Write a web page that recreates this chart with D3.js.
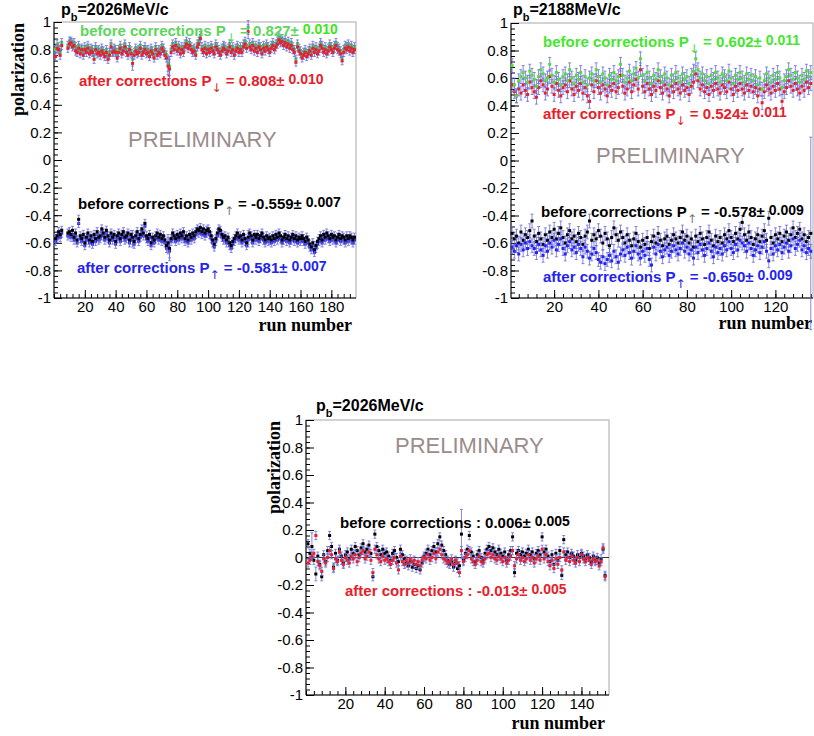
<!DOCTYPE html>
<html>
<head>
<meta charset="utf-8">
<script src="https://cdn.jsdelivr.net/npm/d3@7"></script>
<style>
  html, body { margin: 0; padding: 0; background: #fff; }
  svg { display: block; }
</style>
</head>
<body>
<div id="chart"></div>
<script>
// polarization per run (null = no run)
const P1_BEFORE_DOWN = [
  0.80, 0.84, 0.82, 0.78, 0.85, null, null, null, 0.83, 0.86,
  0.86, 0.84, 0.85, 0.82, 0.80, 0.83, 0.79, 0.81, 0.78, 0.82,
  0.80, 0.83, 0.79, 0.81, 0.80, 0.76, 0.82, 0.79, 0.80, 0.78,
  0.81, 0.79, 0.77, 0.80, 0.75, 0.78, 0.84, 0.79, 0.81, 0.80,
  0.76, 0.80, 0.83, 0.79, 0.81, 0.84, 0.80, 0.78, 0.82, 0.79,
  0.73, 0.78, 0.81, 0.79, 0.80, 0.83, 0.78, 0.80, 0.82, 0.79,
  0.80, 0.77, 0.81, 0.79, 0.76, 0.82, 0.78, 0.80, 0.79, 0.83,
  0.81, 0.78, 0.76, 0.70, 0.68, 0.80, 0.84, 0.82, 0.85, 0.81,
  0.83, 0.79, 0.82, 0.80, 0.84, 0.86, 0.83, 0.85, 0.82, 0.80,
  0.81, 0.78, 0.84, 0.86, 0.90, 0.82, 0.80, 0.83, 0.79, 0.82,
  0.80, 0.83, 0.81, 0.79, 0.84, 0.82, 0.80, 0.78, 0.81, 0.83,
  0.82, 0.79, 0.81, 0.84, 0.80, 0.82, 0.78, 0.81, 0.83, 0.80,
  0.82, 0.80, 0.84, 0.86, 0.83, 0.96, 0.84, 0.82, 0.85, 0.81,
  0.83, 0.80, 0.84, 0.82, 0.79, 0.83, 0.81, 0.84, 0.82, 0.80,
  0.83, 0.85, 0.82, 0.84, 0.86, 0.89, 0.87, 0.88, 0.85, 0.87,
  0.84, 0.86, 0.83, 0.85, 0.82, 0.80, 0.73, 0.84, 0.81, 0.79,
  0.76, 0.78, 0.80, 0.77, 0.79, 0.81, 0.78, 0.83, 0.80, 0.82,
  0.79, 0.81, 0.85, 0.83, 0.80, 0.82, 0.79, 0.81, 0.84, 0.82,
  0.80, 0.83, 0.85, 0.82, 0.81, 0.79, 0.74, 0.80, 0.83, 0.82,
  0.84, 0.81, 0.83, 0.80, 0.82
];
const P1_AFTER_DOWN = [
  0.75, 0.81, 0.80, 0.76, 0.83, null, null, null, 0.81, 0.84,
  0.85, 0.82, 0.83, 0.79, 0.78, 0.81, 0.77, 0.80, 0.76, 0.80,
  0.78, 0.81, 0.77, 0.79, 0.78, 0.73, 0.80, 0.77, 0.78, 0.76,
  0.79, 0.77, 0.75, 0.78, 0.73, 0.76, 0.82, 0.78, 0.79, 0.78,
  0.74, 0.78, 0.81, 0.77, 0.79, 0.82, 0.78, 0.76, 0.80, 0.77,
  0.70, 0.76, 0.79, 0.77, 0.78, 0.81, 0.76, 0.78, 0.80, 0.77,
  0.78, 0.75, 0.79, 0.77, 0.74, 0.80, 0.76, 0.78, 0.77, 0.81,
  0.79, 0.76, 0.74, 0.68, 0.66, 0.78, 0.82, 0.80, 0.83, 0.79,
  0.81, 0.77, 0.80, 0.78, 0.82, 0.84, 0.81, 0.83, 0.80, 0.78,
  0.79, 0.76, 0.82, 0.84, 0.88, 0.80, 0.78, 0.81, 0.77, 0.80,
  0.78, 0.81, 0.79, 0.77, 0.82, 0.80, 0.78, 0.76, 0.79, 0.81,
  0.80, 0.77, 0.79, 0.82, 0.78, 0.80, 0.76, 0.79, 0.81, 0.78,
  0.80, 0.78, 0.82, 0.84, 0.81, 0.93, 0.82, 0.80, 0.83, 0.79,
  0.81, 0.78, 0.82, 0.80, 0.77, 0.81, 0.79, 0.82, 0.80, 0.78,
  0.81, 0.83, 0.80, 0.82, 0.84, 0.87, 0.85, 0.86, 0.83, 0.85,
  0.82, 0.84, 0.81, 0.83, 0.80, 0.78, 0.71, 0.82, 0.79, 0.77,
  0.74, 0.76, 0.78, 0.75, 0.77, 0.79, 0.76, 0.81, 0.78, 0.80,
  0.77, 0.79, 0.83, 0.81, 0.78, 0.80, 0.77, 0.79, 0.82, 0.80,
  0.78, 0.81, 0.83, 0.80, 0.79, 0.77, 0.72, 0.78, 0.81, 0.80,
  0.82, 0.79, 0.81, 0.78, 0.80
];
const P1_BEFORE_UP = [
  -0.57, -0.55, -0.52, -0.54, -0.51, null, null, null, -0.53, -0.52,
  -0.54, -0.51, -0.56, -0.53, -0.58, -0.43, -0.55, -0.57, -0.54, -0.60,
  -0.56, -0.53, -0.58, -0.55, -0.59, -0.54, -0.57, -0.52, -0.56, -0.55,
  -0.50, -0.53, -0.56, -0.51, -0.55, -0.58, -0.53, -0.56, -0.54, -0.59,
  -0.55, -0.53, -0.57, -0.54, -0.52, -0.56, -0.55, -0.53, -0.58, -0.54,
  -0.56, -0.59, -0.55, -0.52, -0.57, -0.54, -0.50, -0.53, -0.46, -0.55,
  -0.57, -0.54, -0.60, -0.56, -0.58, -0.55, -0.53, -0.56, -0.54, -0.57,
  -0.55, -0.58, -0.62, -0.60, -0.64, -0.57, -0.53, -0.55, -0.57, -0.54,
  -0.56, -0.53, -0.55, -0.52, -0.57, -0.55, -0.58, -0.54, -0.56, -0.53,
  -0.55, -0.52, -0.50, -0.51, -0.49, -0.52, -0.50, -0.53, -0.51, -0.50,
  -0.52, -0.55, -0.58, -0.61, -0.57, -0.53, -0.50, -0.51, -0.54, -0.56,
  -0.55, -0.58, -0.56, -0.60, -0.62, -0.59, -0.57, -0.55, -0.53, -0.56,
  -0.55, -0.58, -0.54, -0.57, -0.60, -0.56, -0.53, -0.55, -0.58, -0.54,
  -0.56, -0.54, -0.57, -0.55, -0.53, -0.56, -0.58, -0.55, -0.57, -0.56,
  -0.58, -0.55, -0.57, -0.54, -0.56, -0.53, -0.55, -0.58, -0.56, -0.54,
  -0.57, -0.55, -0.58, -0.56, -0.54, -0.57, -0.55, -0.58, -0.56, -0.57,
  -0.55, -0.57, -0.59, -0.56, -0.58, -0.61, -0.63, -0.60, -0.65, -0.62,
  -0.59, -0.57, -0.55, -0.58, -0.54, -0.56, -0.53, -0.55, -0.57, -0.54,
  -0.56, -0.55, -0.58, -0.56, -0.54, -0.57, -0.55, -0.56, -0.58, -0.55,
  -0.57, -0.55, -0.56, -0.58, -0.56
];
const P1_AFTER_UP = [
  -0.59, -0.57, -0.54, -0.56, -0.53, null, null, null, -0.55, -0.54,
  -0.56, -0.54, -0.58, -0.55, -0.60, -0.46, -0.57, -0.59, -0.56, -0.62,
  -0.58, -0.55, -0.60, -0.57, -0.61, -0.56, -0.59, -0.54, -0.58, -0.57,
  -0.52, -0.55, -0.58, -0.53, -0.57, -0.60, -0.55, -0.58, -0.56, -0.61,
  -0.57, -0.55, -0.59, -0.56, -0.54, -0.58, -0.57, -0.55, -0.60, -0.56,
  -0.58, -0.61, -0.57, -0.54, -0.59, -0.56, -0.52, -0.55, -0.48, -0.57,
  -0.59, -0.56, -0.62, -0.58, -0.60, -0.57, -0.55, -0.58, -0.56, -0.59,
  -0.57, -0.60, -0.64, -0.62, -0.66, -0.59, -0.55, -0.57, -0.59, -0.56,
  -0.58, -0.55, -0.57, -0.54, -0.59, -0.57, -0.60, -0.56, -0.58, -0.55,
  -0.57, -0.54, -0.52, -0.53, -0.51, -0.54, -0.52, -0.55, -0.53, -0.52,
  -0.54, -0.57, -0.60, -0.63, -0.59, -0.55, -0.52, -0.53, -0.56, -0.58,
  -0.57, -0.60, -0.58, -0.62, -0.64, -0.61, -0.59, -0.57, -0.55, -0.58,
  -0.57, -0.60, -0.56, -0.59, -0.62, -0.58, -0.55, -0.57, -0.60, -0.56,
  -0.58, -0.56, -0.59, -0.57, -0.55, -0.58, -0.60, -0.57, -0.59, -0.58,
  -0.60, -0.57, -0.59, -0.56, -0.58, -0.55, -0.57, -0.60, -0.58, -0.56,
  -0.59, -0.57, -0.60, -0.58, -0.56, -0.59, -0.57, -0.60, -0.58, -0.59,
  -0.57, -0.59, -0.61, -0.58, -0.60, -0.63, -0.65, -0.62, -0.67, -0.64,
  -0.61, -0.59, -0.57, -0.60, -0.56, -0.58, -0.55, -0.57, -0.59, -0.56,
  -0.58, -0.57, -0.60, -0.58, -0.56, -0.59, -0.57, -0.58, -0.60, -0.57,
  -0.59, -0.57, -0.58, -0.60, -0.58
];

const P2_BEFORE_DOWN = [
  0.69, 0.55, 0.47, 0.58, 0.61, 0.64, 0.60, 0.57, 0.65, 0.62,
  0.59, 0.54, 0.61, 0.66, 0.63, 0.58, 0.60, 0.70, 0.62, 0.57,
  0.64, 0.59, 0.55, 0.61, 0.63, 0.58, 0.66, 0.60, 0.56, 0.62,
  0.59, 0.64, 0.57, 0.61, 0.55, 0.60, 0.63, 0.58, 0.66, 0.61,
  0.57, 0.63, 0.60, 0.55, 0.62, 0.59, 0.64, 0.58, 0.61, 0.70,
  0.62, 0.57, 0.60, 0.65, 0.58, 0.63, 0.67, 0.60, 0.74, 0.62,
  0.58, 0.64, 0.60, 0.56, 0.62, 0.59, 0.66, 0.61, 0.57, 0.63,
  0.60, 0.55, 0.62, 0.58, 0.64, 0.60, 0.57, 0.63, 0.59, 0.61,
  0.56, 0.62, 0.65, 0.74, 0.66, 0.60, 0.63, 0.58, 0.61, 0.56,
  0.62, 0.59, 0.64, 0.60, 0.57, 0.63, 0.61, 0.58, 0.65, 0.60,
  0.56, 0.62, 0.59, 0.64, 0.60, 0.57, 0.63, 0.59, 0.62, 0.58,
  0.61, 0.55, 0.60, 0.52, 0.58, 0.63, 0.60, 0.57, 0.62, 0.59,
  0.64, 0.60, 0.53, 0.58, 0.61, 0.66, 0.62, 0.59, 0.64, 0.60,
  0.57, 0.62, 0.59, 0.65, 0.61, 0.64
];
const P2_AFTER_DOWN = [
  0.55, 0.50, 0.47, 0.52, 0.49, 0.55, 0.51, 0.48, 0.57, 0.53,
  0.50, 0.46, 0.53, 0.58, 0.55, 0.49, 0.52, 0.61, 0.54, 0.48,
  0.56, 0.51, 0.47, 0.53, 0.55, 0.50, 0.58, 0.52, 0.48, 0.54,
  0.51, 0.56, 0.49, 0.53, 0.47, 0.43, 0.55, 0.50, 0.58, 0.53,
  0.49, 0.55, 0.52, 0.47, 0.54, 0.51, 0.56, 0.50, 0.53, 0.62,
  0.54, 0.49, 0.52, 0.57, 0.50, 0.55, 0.59, 0.52, 0.66, 0.54,
  0.50, 0.56, 0.52, 0.48, 0.54, 0.51, 0.58, 0.53, 0.49, 0.55,
  0.52, 0.47, 0.54, 0.50, 0.56, 0.52, 0.49, 0.55, 0.51, 0.53,
  0.48, 0.54, 0.57, 0.63, 0.58, 0.52, 0.55, 0.50, 0.53, 0.48,
  0.54, 0.51, 0.56, 0.52, 0.49, 0.55, 0.53, 0.50, 0.57, 0.52,
  0.48, 0.54, 0.51, 0.56, 0.52, 0.49, 0.55, 0.51, 0.54, 0.50,
  0.53, 0.47, 0.52, 0.42, 0.50, 0.55, 0.52, 0.49, 0.54, 0.51,
  0.56, 0.52, 0.43, 0.50, 0.53, 0.58, 0.54, 0.51, 0.56, 0.52,
  0.49, 0.54, 0.51, 0.57, 0.53, 0.56
];
const P2_BEFORE_UP = [
  -0.53, -0.57, -0.55, -0.60, -0.52, -0.58, -0.54, -0.56, -0.51, -0.44,
  -0.55, -0.59, -0.53, -0.57, -0.61, -0.54, -0.58, -0.52, -0.56, -0.50,
  -0.57, -0.53, -0.49, -0.56, -0.60, -0.54, -0.51, -0.57, -0.55, -0.59,
  -0.53, -0.56, -0.61, -0.55, -0.52, -0.44, -0.58, -0.54, -0.57, -0.51,
  -0.55, -0.60, -0.53, -0.57, -0.62, -0.56, -0.49, -0.54, -0.58, -0.52,
  -0.56, -0.60, -0.54, -0.58, -0.62, -0.57, -0.53, -0.59, -0.63, -0.58,
  -0.61, -0.56, -0.64, -0.59, -0.55, -0.60, -0.53, -0.58, -0.62, -0.57,
  -0.55, -0.61, -0.58, -0.54, -0.57, -0.60, -0.56, -0.52, -0.58, -0.55,
  -0.60, -0.57, -0.63, -0.55, -0.59, -0.53, -0.57, -0.61, -0.56, -0.52,
  -0.58, -0.62, -0.55, -0.59, -0.56, -0.60, -0.54, -0.57, -0.51, -0.56,
  -0.59, -0.53, -0.57, -0.50, -0.45, -0.54, -0.58, -0.52, -0.56, -0.61,
  -0.57, -0.54, -0.59, -0.55, -0.51, -0.58, -0.42, -0.56, -0.60, -0.54,
  -0.57, -0.53, -0.59, -0.55, -0.52, -0.58, -0.54, -0.49, -0.56, -0.53,
  -0.50, -0.57, -0.54, -0.59, -0.56, -0.53
];
const P2_AFTER_UP = [
  -0.63, -0.66, -0.62, -0.68, -0.61, -0.65, -0.60, -0.64, -0.59, -0.62,
  -0.64, -0.67, -0.61, -0.65, -0.69, -0.62, -0.66, -0.60, -0.63, -0.58,
  -0.65, -0.61, -0.57, -0.64, -0.68, -0.62, -0.59, -0.65, -0.63, -0.67,
  -0.61, -0.64, -0.70, -0.63, -0.66, -0.71, -0.68, -0.64, -0.67, -0.72,
  -0.74, -0.70, -0.75, -0.72, -0.69, -0.73, -0.66, -0.70, -0.74, -0.68,
  -0.65, -0.69, -0.63, -0.67, -0.71, -0.66, -0.62, -0.68, -0.71, -0.66,
  -0.69, -0.64, -0.72, -0.76, -0.63, -0.68, -0.61, -0.66, -0.70, -0.65,
  -0.63, -0.69, -0.66, -0.62, -0.65, -0.68, -0.64, -0.60, -0.66, -0.63,
  -0.68, -0.65, -0.71, -0.63, -0.67, -0.61, -0.65, -0.69, -0.64, -0.60,
  -0.66, -0.70, -0.63, -0.67, -0.64, -0.68, -0.62, -0.65, -0.59, -0.64,
  -0.67, -0.61, -0.65, -0.58, -0.60, -0.62, -0.66, -0.60, -0.64, -0.69,
  -0.65, -0.62, -0.67, -0.63, -0.59, -0.66, -0.73, -0.64, -0.68, -0.62,
  -0.65, -0.61, -0.67, -0.63, -0.60, -0.66, -0.62, -0.57, -0.64, -0.61,
  -0.58, -0.65, -0.62, -0.67, -0.64, -0.66
];

const P3_BEFORE = [
  0.10, 0.03, 0.08, -0.02, -0.12, 0.01, -0.05, -0.14, 0.02, -0.03,
  0.05, 0.16, 0.08, -0.07, 0.03, -0.02, 0.06, 0.01, -0.04, 0.02,
  0.04, -0.01, 0.06, 0.03, 0.08, 0.05, 0.02, 0.07, 0.10, 0.04,
  0.06, 0.09, 0.03, -0.14, 0.17, 0.08, 0.05, 0.02, 0.06, 0.03,
  0.04, 0.01, -0.02, 0.03, 0.05, 0.00, -0.03, 0.06, 0.02, -0.01,
  -0.04, -0.06, -0.03, -0.07, -0.05, -0.08, -0.06, -0.09, -0.04, 0.01,
  0.03, 0.06, 0.02, 0.05, 0.08, 0.04, 0.10, 0.15, 0.09, 0.05,
  0.02, -0.02, -0.05, -0.03, -0.07, -0.04, -0.08, -0.06, 0.17, -0.02,
  0.03, 0.06, 0.16, 0.04, 0.01, -0.03, 0.02, 0.05, 0.00, -0.02,
  0.03, 0.06, 0.08, 0.05, 0.07, 0.04, 0.02, 0.06, 0.03, 0.01,
  0.04, -0.02, 0.02, 0.05, 0.15, -0.11, 0.03, 0.05, 0.02, 0.04,
  0.01, 0.03, 0.06, 0.02, 0.04, -0.01, 0.03, 0.05, 0.02, 0.15,
  0.04, 0.06, 0.01, -0.03, 0.02, -0.05, 0.03, -0.02, 0.05, -0.13,
  0.13, 0.02, 0.04, 0.00, 0.03, 0.01, -0.02, 0.02, 0.00, 0.03,
  0.01, -0.01, 0.02, 0.00, -0.03, 0.01, -0.02, 0.00, -0.04, -0.01,
  0.06, -0.13
];
const P3_AFTER = [
  -0.04, -0.02, 0.01, 0.03, 0.16, -0.03, -0.06, -0.10, -0.01, -0.04,
  0.00, 0.05, 0.02, -0.08, -0.01, -0.03, 0.04, -0.02, -0.05, 0.00,
  -0.02, -0.04, 0.01, -0.01, 0.02, -0.03, 0.00, 0.03, 0.05, -0.01,
  0.01, 0.04, -0.02, -0.11, 0.06, 0.02, -0.01, -0.03, 0.01, -0.02,
  -0.01, -0.03, -0.05, -0.02, 0.00, -0.04, -0.09, 0.01, -0.03, -0.05,
  -0.02, -0.04, -0.01, -0.03, -0.02, -0.05, -0.03, -0.06, -0.02, 0.00,
  -0.01, 0.02, -0.02, 0.00, 0.03, -0.01, 0.04, 0.06, 0.02, -0.01,
  -0.02, -0.04, -0.03, -0.01, -0.05, -0.02, -0.04, -0.11, 0.05, -0.03,
  0.00, 0.02, 0.05, -0.01, -0.03, -0.05, -0.02, 0.01, -0.03, -0.04,
  -0.01, 0.02, 0.03, 0.00, 0.02, -0.01, -0.02, 0.01, -0.01, -0.03,
  0.00, -0.04, -0.02, 0.01, 0.05, -0.06, -0.01, 0.02, -0.02, 0.00,
  -0.03, -0.01, 0.02, -0.02, 0.00, -0.04, -0.01, 0.01, -0.02, 0.06,
  -0.01, 0.02, -0.03, -0.06, -0.02, -0.08, -0.01, -0.05, 0.00, -0.09,
  0.04, -0.02, 0.00, -0.03, 0.01, -0.02, -0.04, 0.00, -0.03, 0.02,
  -0.01, -0.03, 0.00, -0.02, -0.05, -0.01, -0.03, -0.02, -0.06, -0.03,
  0.07, -0.14
];

// typical error per panel, plus the runs with visibly larger bars [run, err]
const ERR_1 = 0.03, ERR_2 = 0.05, ERR_3 = 0.03;
const BIG_ERR_1 = [[74, 0.06], [75, 0.07], [126, 0.05], [51, 0.05]];
const BIG_ERR_2 = [[136, 0.70]];
const BIG_ERR_3 = [[79, 0.18], [3, 0.1], [5, 0.05]];

const Y_TICKS = [-1, -0.8, -0.6, -0.4, -0.2, 0, 0.2, 0.4, 0.6, 0.8, 1];
const X_TICKS_1 = [20, 40, 60, 80, 100, 120, 140, 160, 180];
const X_TICKS_2 = [20, 40, 60, 80, 100, 120];
const X_TICKS_3 = [20, 40, 60, 80, 100, 120, 140];

const GREEN = '#4fdc3c', RED = '#e8202a', BLUE = '#2424ee', BLACK = '#000';
const ERRBAR = '#6a6ad8';
const SANS = '"Liberation Sans", Arial, Helvetica, sans-serif';
const SERIF = '"Liberation Serif", "Times New Roman", serif';

const W = 814, H = 736;
const svg = d3.select('#chart').append('svg').attr('width', W).attr('height', H);

function series(values, color, errBase, bigErr) {
  const big = new Map(bigErr);
  return {
    color,
    points: values.map((v, i) => ({ run: i + 1, v, e: big.get(i + 1) || errBase })).filter(d => d.v !== null)
  };
}

function drawPanel(p) {
  const g = svg.append('g');
  const x = d3.scaleLinear().domain(p.domain).range([p.left, p.right]);
  const y = d3.scaleLinear().domain([-1, 1]).range([p.bottom, p.top]);

  // frame
  g.append('rect')
    .attr('x', p.left).attr('y', p.top)
    .attr('width', p.right - p.left).attr('height', p.bottom - p.top)
    .attr('fill', 'none').attr('stroke', '#a8a8a8').attr('stroke-width', 1);

  if (p.zeroLine) {
    g.append('line')
      .attr('x1', p.left).attr('x2', p.right)
      .attr('y1', y(0)).attr('y2', y(0))
      .attr('stroke', '#333').attr('stroke-width', 1);
  }

  // minor ticks
  const yMinor = d3.range(-1, 1.0001, 0.04);
  g.append('g').attr('transform', `translate(${p.left},0)`)
    .call(d3.axisLeft(y).tickValues(yMinor).tickSize(-4).tickFormat(''))
    .call(a => a.select('.domain').remove());
  const xMinor = d3.range(Math.ceil(p.domain[0] / 4) * 4, p.domain[1], 4);
  g.append('g').attr('transform', `translate(0,${p.bottom})`)
    .call(d3.axisBottom(x).tickValues(xMinor).tickSize(-4).tickFormat(''))
    .call(a => a.select('.domain').remove());

  // major ticks + labels
  const yAxis = g.append('g').attr('transform', `translate(${p.left},0)`)
    .call(d3.axisLeft(y).tickValues(Y_TICKS).tickSize(-8).tickPadding(3)
      .tickFormat(d => String(Math.round(d * 10) / 10)));
  const xAxis = g.append('g').attr('transform', `translate(0,${p.bottom})`)
    .call(d3.axisBottom(x).tickValues(p.xTicks).tickSize(-8).tickPadding(3).tickSizeOuter(0));
  [yAxis, xAxis].forEach(a => {
    a.selectAll('text').style('font', `15px ${SANS}`).attr('fill', '#000');
    a.select('.domain').remove();
  });
  g.selectAll('.tick line').attr('stroke', '#000');
  g.append('line').attr('x1', p.left).attr('x2', p.left).attr('y1', p.top).attr('y2', p.bottom).attr('stroke', '#000');
  g.append('line').attr('x1', p.left).attr('x2', p.right).attr('y1', p.bottom).attr('y2', p.bottom).attr('stroke', '#000');

  // titles
  g.append('text').attr('x', p.xTitle[0]).attr('y', p.xTitle[1])
    .attr('text-anchor', 'end').style('font', `bold 18px ${SERIF}`).text('run number');
  if (p.yTitle) {
    g.append('text')
      .attr('transform', `translate(${p.yTitle[0]},${p.yTitle[1]}) rotate(-90)`)
      .attr('text-anchor', 'end').style('font', `bold 18px ${SERIF}`).text('polarization');
  }
  const t = g.append('text').attr('x', p.title[0]).attr('y', p.title[1]).style('font', `bold 16px ${SANS}`);
  t.append('tspan').text('p');
  t.append('tspan').attr('dy', 6).style('font-size', '11px').text('b');
  t.append('tspan').attr('dy', -6).text(`=${p.momentum}MeV/c`);

  g.append('text').attr('x', p.prelim[0]).attr('y', p.prelim[1])
    .attr('fill', '#9b8c8c').style('font', `22px ${SANS}`).text('PRELIMINARY');

  // data
  p.series.forEach(s => {
    const sg = g.append('g');
    sg.selectAll('line.err').data(s.points).join('line')
      .attr('x1', d => x(d.run)).attr('x2', d => x(d.run))
      .attr('y1', d => y(d.v + d.e)).attr('y2', d => y(d.v - d.e))
      .attr('stroke', ERRBAR).attr('stroke-opacity', 0.8).attr('stroke-width', 1);
    sg.selectAll('path.cap').data(s.points).join('path')
      .attr('d', d => `M${x(d.run) - 1.5},${y(d.v + d.e)}h3M${x(d.run) - 1.5},${y(d.v - d.e)}h3`)
      .attr('stroke', ERRBAR).attr('stroke-opacity', 0.8).attr('stroke-width', 1);
    sg.selectAll('rect').data(s.points).join('rect')
      .attr('x', d => x(d.run) - 1.5).attr('y', d => y(d.v) - 1.5)
      .attr('width', 3).attr('height', 3).attr('fill', s.color);
  });

  // annotations
  p.notes.forEach(n => {
    const tx = g.append('text').attr('x', n.x).attr('y', n.y).attr('fill', n.color)
      .style('font', `bold 15px ${SANS}`);
    tx.append('tspan').text(n.pre);
    if (n.arrow) {
      tx.append('tspan').attr('dy', 6).attr('fill', n.arrowColor || n.color)
        .style('font', `12px "DejaVu Sans", sans-serif`).text(n.arrow);
      tx.append('tspan').attr('dy', -6).text(n.mid);
    } else {
      tx.append('tspan').text(n.mid);
    }
    tx.append('tspan').attr('dy', -2).attr('dx', 4).attr('fill', n.errColor || n.color)
      .style('font-size', '14px').text(n.err);
  });
}

const panels = [
  {
    left: 54, right: 356, top: 22, bottom: 298, domain: [0, 196], xTicks: X_TICKS_1,
    momentum: '2026', title: [61, 15], xTitle: [352, 331], yTitle: [24, 23], prelim: [128, 147],
    series: [
      series(P1_BEFORE_DOWN, GREEN, ERR_1, BIG_ERR_1),
      series(P1_AFTER_DOWN, RED, ERR_1, BIG_ERR_1),
      series(P1_AFTER_UP, BLUE, ERR_1, BIG_ERR_1),
      series(P1_BEFORE_UP, BLACK, ERR_1, BIG_ERR_1)
    ],
    notes: [
      { x: 80, y: 36, color: '#5cd65c', pre: 'before corrections P', arrow: '↓', mid: ' = 0.827±', err: '0.010', errColor: '#3ee51a' },
      { x: 79, y: 86, color: RED, pre: 'after corrections P', arrow: '↓', mid: ' = 0.808±', err: '0.010' },
      { x: 78, y: 209, color: BLACK, pre: 'before corrections P', arrow: '↑', arrowColor: '#777', mid: ' = -0.559±', err: '0.007' },
      { x: 77, y: 273, color: BLUE, pre: 'after corrections P', arrow: '↑', mid: ' = -0.581±', err: '0.007' }
    ]
  },
  {
    left: 511, right: 813, top: 23, bottom: 298, domain: [0.5, 137], xTicks: X_TICKS_2,
    momentum: '2188', title: [513, 15], xTitle: [812, 329], yTitle: null, prelim: [596, 163],
    series: [
      series(P2_AFTER_DOWN, RED, ERR_2, []),
      series(P2_BEFORE_DOWN, GREEN, ERR_2, []),
      series(P2_BEFORE_UP, BLACK, ERR_2, BIG_ERR_2),
      series(P2_AFTER_UP, BLUE, ERR_2, [])
    ],
    notes: [
      { x: 543, y: 47, color: '#44e62e', pre: 'before corrections P', arrow: '↓', mid: ' = 0.602±', err: '0.011' },
      { x: 543, y: 119, color: RED, pre: 'after corrections P', arrow: '↓', mid: ' = 0.524±', err: '0.011' },
      { x: 541, y: 217, color: BLACK, pre: 'before corrections P', arrow: '↑', arrowColor: '#777', mid: ' = -0.578±', err: '0.009' },
      { x: 543, y: 282, color: BLUE, pre: 'after corrections P', arrow: '↑', mid: ' = -0.650±', err: '0.009' }
    ]
  },
  {
    left: 306, right: 609, top: 420, bottom: 695, domain: [0, 154], xTicks: X_TICKS_3, zeroLine: true,
    momentum: '2026', title: [316, 411], xTitle: [605, 729], yTitle: [280, 421], prelim: [395, 453],
    series: [
      series(P3_BEFORE, BLACK, ERR_3, BIG_ERR_3),
      series(P3_AFTER, RED, ERR_3, [])
    ],
    notes: [
      { x: 340, y: 528, color: BLACK, pre: 'before corrections', mid: ' : 0.006±', err: '0.005' },
      { x: 345, y: 596, color: RED, pre: 'after corrections', mid: ' : -0.013±', err: '0.005' }
    ]
  }
];

panels.forEach(drawPanel);
</script>
</body>
</html>
